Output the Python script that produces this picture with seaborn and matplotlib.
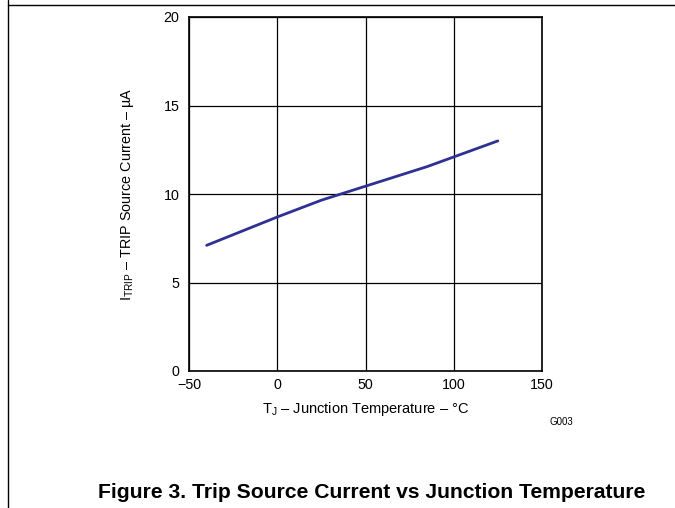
import matplotlib
matplotlib.use("Agg")
import matplotlib.pyplot as plt
import seaborn as sns
import pandas as pd
from matplotlib.lines import Line2D

temperature = [-40, 0, 25, 85, 125]
trip_current = [7.1, 8.7, 9.65, 11.55, 13.0]
x_ticks = [-50, 0, 50, 100, 150]
y_ticks = [0, 5, 10, 15, 20]

sns.set_theme(style="white")
plt.rcParams['font.family'] = ['Liberation Sans', 'DejaVu Sans']
plt.rcParams['mathtext.fontset'] = 'custom'
plt.rcParams['mathtext.rm'] = 'Liberation Sans'
plt.rcParams['mathtext.it'] = 'Liberation Sans'

df = pd.DataFrame({"T": temperature, "I": trip_current})

fig = plt.figure(figsize=(6.75, 5.08), dpi=100)
ax = fig.add_axes([189/675, 1-371/508, (542-189)/675, (371-17)/508])
sns.lineplot(data=df, x="T", y="I", ax=ax, color="#2E3192", linewidth=2.0)

ax.set_xlim(-50, 150)
ax.set_ylim(0, 20)
ax.set_xticks(x_ticks)
ax.set_yticks(y_ticks)
ax.set_xticklabels(["\u221250" if v < 0 else str(v) for v in x_ticks])
ax.tick_params(length=0, labelsize=10.3, colors="black")
ax.tick_params(axis="x", pad=5)
ax.tick_params(axis="y", pad=7)
ax.grid(True, color="black", linewidth=0.9)
for s in ax.spines.values():
    s.set_color("black")
    s.set_linewidth(1.2)

ax.set_xlabel(r"T$_{\mathrm{J}}$" + " \u2013 Junction Temperature \u2013 \u00b0C", fontsize=10.5, color="black", labelpad=6)
ax.set_ylabel(r"I$_{\mathrm{TRIP}}$" + " \u2013 TRIP Source Current \u2013 \u00b5A", fontsize=10.4, color="black", labelpad=20)

fig.text(561/675, 1-422/508, "G003", fontsize=7, ha="center", va="center", color="black")
fig.text(372/675, 1-492/508, "Figure 3. Trip Source Current vs Junction Temperature",
         fontsize=15.2, fontweight="bold", ha="center", va="center", color="black")

fig.add_artist(Line2D([8/675, 1], [1-5/508, 1-5/508], color="black", linewidth=1.0, transform=fig.transFigure))
fig.add_artist(Line2D([8/675, 8/675], [0, 1], color="black", linewidth=1.0, transform=fig.transFigure))

fig.savefig("out.png", dpi=100)
